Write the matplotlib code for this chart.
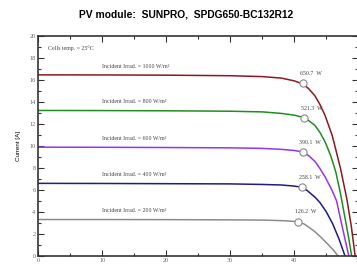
import numpy as np
import matplotlib.pyplot as plt
from matplotlib.ticker import MultipleLocator

# courbes I-V (tension [V], courant [A])
irradiances = [1000, 800, 600, 400, 200]
couleurs = ["#8b1a1f", "#1f8f1f", "#9933ee", "#1c1c8c", "#8c8c8c"]

v_1000 = [0, 10, 20, 30, 35, 38, 40, 41.4, 42.3, 43.2, 44.0, 44.8, 45.9, 46.3, 47.2, 48.2, 48.9, 49.5]
i_1000 = [16.5, 16.49, 16.47, 16.42, 16.34, 16.2, 15.95, 15.65, 15.2, 14.6, 13.8, 12.8, 11.0, 10.1, 8.0, 5.2, 2.7, 0]

v_800 = [0, 10, 20, 30, 35, 38, 40, 41.5, 42.3, 43.2, 44.0, 44.8, 45.7, 46.5, 47.2, 48.0, 48.5, 48.95]
i_800 = [13.25, 13.24, 13.22, 13.18, 13.12, 12.98, 12.82, 12.6, 12.3, 11.9, 11.25, 10.4, 9.1, 7.6, 5.7, 3.2, 1.6, 0]

v_600 = [0, 10, 20, 30, 35, 38, 40, 41.4, 42.3, 43.3, 44.0, 44.8, 45.9, 46.6, 47.5, 48.0, 48.5]
i_600 = [9.9, 9.89, 9.87, 9.84, 9.79, 9.7, 9.6, 9.45, 9.1, 8.55, 7.95, 7.2, 5.95, 5.0, 2.6, 1.3, 0]

v_400 = [0, 10, 20, 30, 35, 38, 40, 41.1, 42.0, 43.3, 44.0, 45.0, 46.0, 47.0, 47.9]
i_400 = [6.6, 6.59, 6.57, 6.55, 6.5, 6.45, 6.35, 6.25, 5.95, 5.3, 4.85, 4.0, 2.9, 1.5, 0]

v_200 = [0, 10, 20, 30, 35, 38, 39.5, 40.6, 41.5, 42.5, 43.3, 44.3, 45.4, 46.2, 46.8]
i_200 = [3.3, 3.3, 3.29, 3.27, 3.25, 3.2, 3.15, 3.09, 2.9, 2.5, 2.15, 1.6, 0.95, 0.45, 0]

tensions = [v_1000, v_800, v_600, v_400, v_200]
courants = [i_1000, i_800, i_600, i_400, i_200]

# points de puissance maximale
v_mpp = [41.4, 41.5, 41.3, 41.2, 40.6]
i_mpp = [15.72, 12.56, 9.45, 6.26, 3.11]
p_mpp = [650.7, 521.3, 390.1, 258.1, 126.2]

fig = plt.figure(figsize=(3.57, 2.68), dpi=100)
ax = fig.add_axes([0.1073, 0.0459, 0.8964, 0.818])

serif = "Liberation Serif"
for k in range(len(irradiances)):
    ax.plot(tensions[k], courants[k], color=couleurs[k], lw=1.1, zorder=2)
    ax.text(10, courants[k][0] + 0.55, "Incident Irrad. = %d W/m²" % irradiances[k],
            fontsize=4.2, family=serif, color="#444444", va="bottom")
    ax.plot(v_mpp[k], i_mpp[k], "o", ms=5.2, mfc="white", mec="#888888", mew=0.8, zorder=3)
    ax.text(v_mpp[k] - 0.5, i_mpp[k] + 0.65, "%.1f  W" % p_mpp[k],
            fontsize=4.2, family=serif, color="#444444", va="bottom")

ax.text(1.5, 18.9, "Cells temp. = 25°C", fontsize=4.2, family=serif, color="#444444", va="center")

ax.set_xlim(0, 50)
ax.set_ylim(0, 20)
ax.xaxis.set_major_locator(MultipleLocator(10))
ax.xaxis.set_minor_locator(MultipleLocator(5))
ax.yaxis.set_major_locator(MultipleLocator(2))
ax.yaxis.set_minor_locator(MultipleLocator(1))
ax.tick_params(which="both", direction="in", top=True, right=True, color="#333333",
               width=0.8, labelsize=4.5, labelcolor="#666666", pad=2)
ax.tick_params(which="major", length=4)
ax.tick_params(which="minor", length=2)
for lab in ax.get_xticklabels() + ax.get_yticklabels():
    lab.set_family(serif)
for s in ax.spines.values():
    s.set_color("#333333")
    s.set_linewidth(1.2)

ax.set_ylabel("Current [A]", fontsize=4.5, family="Liberation Sans", labelpad=6)
ax.set_xlabel("Voltage [V]", fontsize=4.5, family="Liberation Sans", labelpad=4)

fig.text(0.52, 0.945, "PV module:  SUNPRO,  SPDG650-BC132R12", ha="center", va="center",
         fontsize=7.4, fontweight="bold", family="Liberation Sans")

fig.savefig("out.png", dpi=100)
